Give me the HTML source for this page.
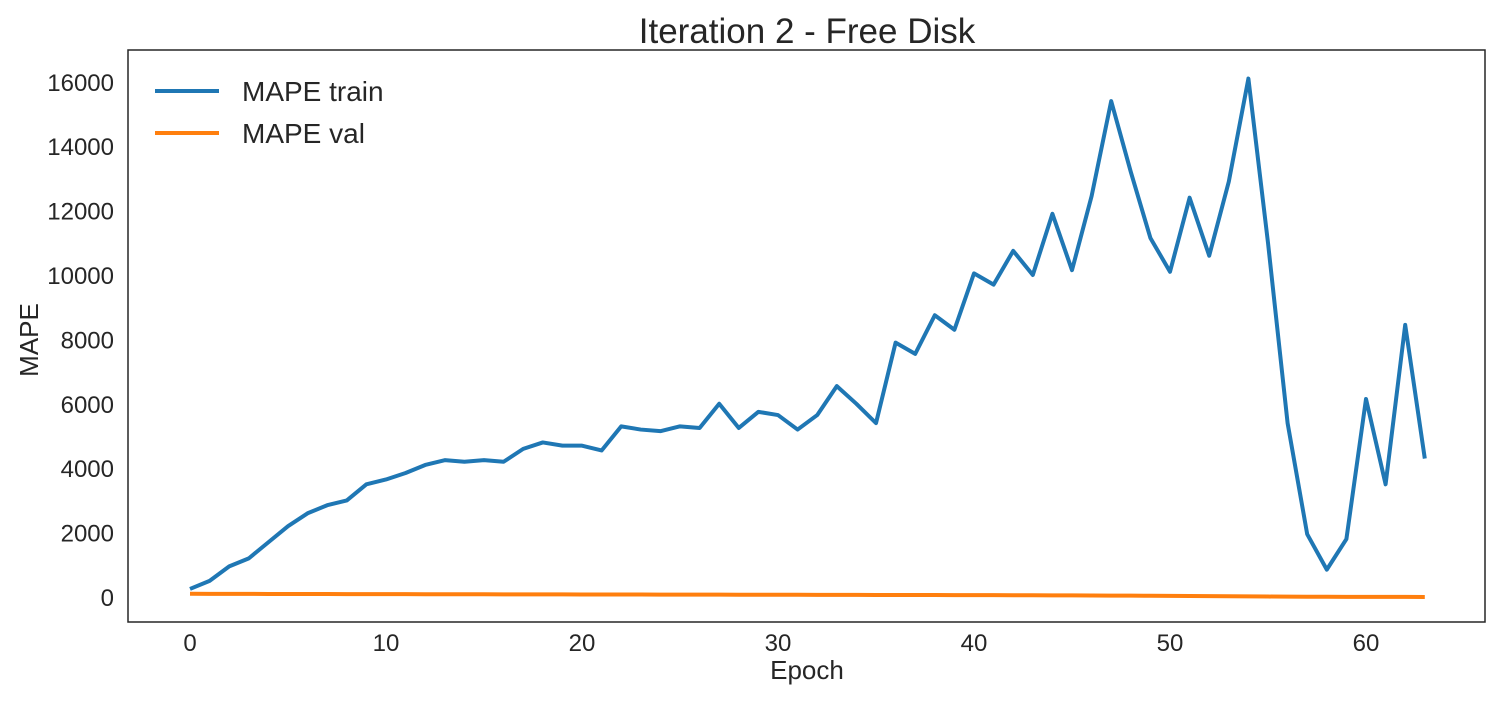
<!DOCTYPE html>
<html><head><meta charset="utf-8"><style>
body{margin:0;background:#fff;}
svg text{font-family:"Liberation Sans",sans-serif;fill:#262626;}
</style></head><body>
<svg id="chart" width="1500" height="700">
<rect x="128" y="50" width="1357" height="572" fill="#fff" stroke="#262626" stroke-width="1.5"/>
<text x="807" y="43" font-size="35" text-anchor="middle">Iteration 2 - Free Disk</text>
<text x="807" y="679" font-size="26" text-anchor="middle">Epoch</text>
<text x="38" y="340" font-size="26" text-anchor="middle" transform="rotate(-90 38 340)">MAPE</text>
<g id="ticks"></g>
<g id="lines"></g>
<g>
<line x1="155" y1="91" x2="219" y2="91" stroke="#1f77b4" stroke-width="4"/>
<text x="242" y="101" font-size="28">MAPE train</text>
<line x1="155" y1="133" x2="219" y2="133" stroke="#ff7f0e" stroke-width="4"/>
<text x="242" y="143" font-size="28">MAPE val</text>
</g>
</svg>
<script>
const xTicks=[0,10,20,30,40,50,60];
const yTicks=[0,2000,4000,6000,8000,10000,12000,14000,16000];
const trainValues=[250,500,950,1200,1700,2200,2600,2850,3000,3500,3650,3850,4100,4250,4200,4250,4200,4600,4800,4700,4700,4550,5300,5200,5150,5300,5250,6000,5250,5750,5650,5200,5650,6550,6000,5400,7900,7550,8750,8300,10050,9700,10750,10000,11900,10150,12450,15400,13200,11150,10100,12400,10600,12900,16100,11000,5400,1950,850,1800,6150,3500,8450,4300];
const valValues=[100,98,97,96,95,94,93,92,91,90,89,88,87,86,85,84,83,82,81,80,79,78,77,76,75,74,73,72,71,70,69,68,67,66,65,64,63,62,61,60,59,58,56,54,52,50,47,44,41,38,34,30,26,22,18,14,10,8,6,5,4,3,2,1];
const X=v=>190+v*19.6;
const Y=v=>597-v*0.0322;
const NS="http://www.w3.org/2000/svg";
const tg=document.getElementById('ticks');
xTicks.forEach(t=>{const e=document.createElementNS(NS,'text');e.setAttribute('x',X(t));e.setAttribute('y',651);e.setAttribute('font-size','24');e.setAttribute('text-anchor','middle');e.textContent=t;


tg.appendChild(e);});
yTicks.forEach(t=>{const e=document.createElementNS(NS,'text');e.setAttribute('x',114);e.setAttribute('y',Y(t)+9);e.setAttribute('font-size','24');e.setAttribute('text-anchor','end');e.textContent=t;


tg.appendChild(e);});
const lg=document.getElementById('lines');
function line(vals,color,name){const p=document.createElementNS(NS,'polyline');p.setAttribute('points',vals.map((v,i)=>X(i)+','+Y(v)).join(' '));p.setAttribute('fill','none');p.setAttribute('stroke',color);p.setAttribute('stroke-width','4');p.setAttribute('stroke-linejoin','round');


lg.appendChild(p);}
line(trainValues,'#1f77b4','train-line');
line(valValues,'#ff7f0e','val-line');
</script>
</body></html>
